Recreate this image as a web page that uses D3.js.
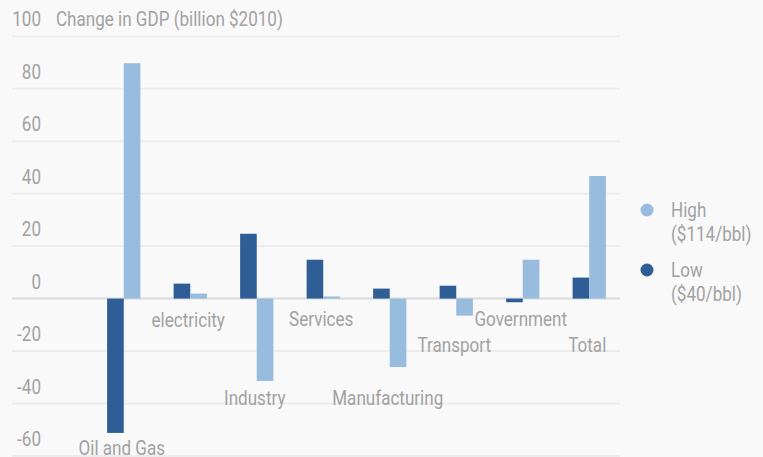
<!DOCTYPE html>
<html><head><meta charset="utf-8">
<script src="https://cdn.jsdelivr.net/npm/d3@7"></script>
<style>
html,body{margin:0;padding:0;background:#f9f9f9;}
svg{display:block;}
text{font-family:Roboto,sans-serif;font-weight:400;fill:#a2a2a2;}
</style></head>
<body><svg id="c" width="763" height="457"></svg>
<script>
const categories = ["Oil and Gas","electricity","Industry","Services","Manufacturing","Transport","Government","Total"];
const lowValues  = [-51.2, 5.7, 24.7, 14.8, 3.8, 4.9, -1.4, 8.0];
const highValues = [89.7, 1.9, -31.4, 0.8, -26.1, -6.5, 14.8, 46.7];
const yTicks = [-60,-40,-20,0,20,40,60,80,100];
const seriesNames = ["Low","High"];
const legendLabels = [["High","($114/bbl)"],["Low","($40/bbl)"]];
const titleText = "Change in GDP (billion $2010)";

const FS = 21;
const colors = {Low:"#2e5e95", High:"#97bcdd"};
const svg = d3.select("#c");
const y = d3.scaleLinear().domain([-60,100]).range([456,36.2]);
const x = d3.scaleBand().domain(categories).range([90.5,622.5]).paddingInner(0.5).paddingOuter(0.25);
const xs = d3.scaleBand().domain(seriesNames).range([0,x.bandwidth()]);
const plotLeft = 12, plotRight = 620;

function place(sel, px, py, sx){
  sel.attr("x",0).attr("y",0).attr("transform",(d,i)=>`translate(${px(d,i)},${py(d,i)}) scale(${sx},1)`);
}

const probe = svg.append("text").attr("font-size",FS).text(titleText);
const SX = 227 / probe.node().getComputedTextLength();
probe.remove();

// gridlines
svg.append("g").selectAll("line").data(yTicks).join("line")
  .attr("x1",plotLeft).attr("x2",plotRight)
  .attr("y1",d=>y(d)).attr("y2",d=>y(d))
  .attr("stroke",d=>d===0?"#dadada":"#ececec").attr("stroke-width",2);

// y tick labels via axis generator
const yAxis = d3.axisLeft(y).tickValues(yTicks).tickSize(0).tickPadding(0).tickFormat(d=>String(d));
const ga = svg.append("g").call(yAxis);
ga.select(".domain").remove();
ga.attr("font-family",null).attr("font-size",null);
ga.selectAll(".tick").attr("transform",null);
ga.selectAll(".tick text").attr("font-size",FS).attr("dy",null).attr("fill",null)
  .attr("text-anchor","end")
  .call(place, d=>41, d=>y(d)-10, SX);

// title
svg.append("text").attr("font-size",FS).text(titleText).call(place, ()=>56, ()=>y(100)-10, SX);

// bars
const rows = categories.map((c,i)=>({c, Low:lowValues[i], High:highValues[i]}));
const g = svg.append("g");
g.selectAll("g").data(rows).join("g")
  .attr("transform",d=>`translate(${x(d.c)},0)`)
  .selectAll("rect").data(d=>seriesNames.map(s=>({s,v:d[s]}))).join("rect")
  .attr("x",d=>xs(d.s)).attr("width",xs.bandwidth())
  .attr("y",d=>y(Math.max(0,d.v))).attr("height",d=>Math.abs(y(d.v)-y(0)))
  .attr("fill",d=>colors[d.s]);

// category labels (staggered as in the original)
const labelBaselines = {"Oil and Gas":455,"electricity":327,"Industry":405,"Services":326,
  "Manufacturing":405,"Transport":352,"Government":326,"Total":352};
svg.append("g").selectAll("text").data(categories).join("text")
  .attr("text-anchor","middle").attr("font-size",FS).text(d=>d)
  .call(place, d=>x(d)+x.bandwidth()/2 - 2, d=>labelBaselines[d], SX);

// legend
const lg = svg.append("g").selectAll("g").data(legendLabels).join("g")
  .attr("transform",(d,i)=>`translate(647,${210+i*60})`);
lg.append("circle").attr("r",6.5).attr("fill",(d,i)=>i===0?colors.High:colors.Low);
lg.append("text").attr("font-size",FS).text(d=>d[0]).call(place, ()=>24, ()=>7, SX);
lg.append("text").attr("font-size",FS).text(d=>d[1]).call(place, ()=>24, ()=>31, SX);
</script></body></html>
